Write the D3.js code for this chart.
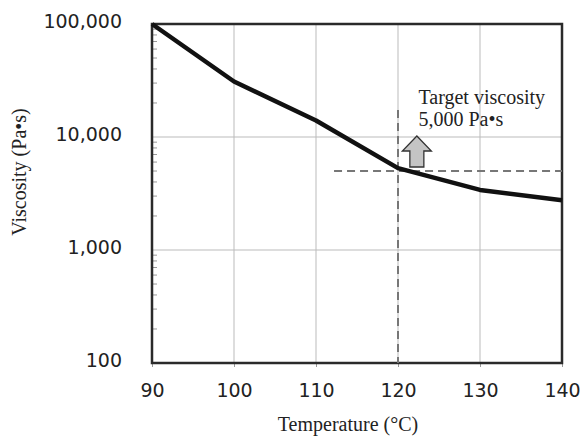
<!DOCTYPE html>
<html>
<head>
<meta charset="utf-8">
<script src="https://cdn.jsdelivr.net/npm/d3@7"></script>
<style>
  body { margin: 0; background: #fff; }
  .tick-label { font-family: "DejaVu Sans", Verdana, sans-serif; font-size: 19px; fill: #222; }
  .serif { font-family: "Liberation Serif", "Times New Roman", serif; font-size: 20px; fill: #222; }
</style>
</head>
<body>
<svg id="chart" width="581" height="438"></svg>
<script>
  // data
  const temps = [90, 100, 110, 120, 130, 140];
  const viscosity = [100000, 31000, 14000, 5300, 3400, 2750];
  const xTicks = [90, 100, 110, 120, 130, 140];
  const yTicks = [100, 1000, 10000, 100000];
  const targetTemp = 120;
  const targetVisc = 5000;

  const svg = d3.select("#chart");
  const margin = { top: 24, right: 19, bottom: 75, left: 152 };
  const width = 581 - margin.left - margin.right;
  const height = 438 - margin.top - margin.bottom;

  const g = svg.append("g")
    .attr("transform", `translate(${margin.left},${margin.top})`);

  const x = d3.scaleLinear().domain([90, 140]).range([0, width]);
  const y = d3.scaleLog().domain([100, 100000]).range([height, 0]);

  // grid
  g.selectAll(".vgrid")
    .data(xTicks.slice(1, -1))
    .enter().append("line")
      .attr("x1", d => x(d)).attr("x2", d => x(d))
      .attr("y1", 0).attr("y2", height)
      .attr("stroke", "#bbb").attr("stroke-width", 1);

  g.selectAll(".hgrid")
    .data(yTicks.slice(1, -1))
    .enter().append("line")
      .attr("x1", 0).attr("x2", width)
      .attr("y1", d => y(d)).attr("y2", d => y(d))
      .attr("stroke", "#bbb").attr("stroke-width", 1);

  // minor ticks inside left axis
  const minor = [];
  for (let dec = 100; dec < 100000; dec *= 10) {
    for (let k = 2; k <= 9; k++) minor.push(dec * k);
  }
  g.selectAll(".minor")
    .data(minor)
    .enter().append("line")
      .attr("x1", 0).attr("x2", 5)
      .attr("y1", d => y(d)).attr("y2", d => y(d))
      .attr("stroke", "#999").attr("stroke-width", 1);

  // x axis
  const xAxis = g.append("g")
    .attr("transform", `translate(0,${height})`)
    .call(d3.axisBottom(x).tickValues(xTicks).tickSize(4).tickPadding(16.5));
  xAxis.select(".domain").remove();
  xAxis.selectAll("line").attr("stroke", "#999");
  xAxis.selectAll("text").attr("class", "tick-label").attr("fill", null);

  // y axis
  const yAxis = g.append("g")
    .call(d3.axisLeft(y).tickValues(yTicks).tickSize(0).tickPadding(30)
      .tickFormat(d3.format(",")));
  yAxis.select(".domain").remove();
  yAxis.selectAll("text").attr("class", "tick-label").attr("fill", null).attr("dy", "0.2em");

  // frame
  g.append("rect")
    .attr("width", width).attr("height", height)
    .attr("fill", "none").attr("stroke", "#2a2a2a").attr("stroke-width", 2.5);

  // target dashed lines
  g.append("line")
    .attr("x1", x(targetTemp)).attr("x2", x(targetTemp))
    .attr("y1", 86).attr("y2", height)
    .attr("stroke", "#777").attr("stroke-width", 2).attr("stroke-dasharray", "8,5");
  g.append("line")
    .attr("x1", x(112.2)).attr("x2", width)
    .attr("y1", y(targetVisc)).attr("y2", y(targetVisc))
    .attr("stroke", "#777").attr("stroke-width", 2).attr("stroke-dasharray", "8,5");

  // viscosity curve
  const line = d3.line()
    .x((d, i) => x(temps[i]))
    .y(d => y(d));
  g.append("path")
    .datum(viscosity)
    .attr("d", line)
    .attr("fill", "none")
    .attr("stroke", "#111")
    .attr("stroke-width", 4.5)
    .attr("stroke-linejoin", "round");

  // up arrow
  const ax = x(122.3), ab = y(targetVisc) - 4;
  const arrow = [
    [ax - 7, ab], [ax - 7, ab - 16], [ax - 14.5, ab - 16], [ax, ab - 31],
    [ax + 14.5, ab - 16], [ax + 7, ab - 16], [ax + 7, ab]
  ];
  g.append("path")
    .attr("d", d3.line()(arrow) + "Z")
    .attr("fill", "#c4c4c4").attr("stroke", "#333").attr("stroke-width", 1.3);

  // annotation
  const ann = g.append("text").attr("class", "serif")
    .attr("x", x(122.5)).attr("y", 80);
  ann.append("tspan").attr("x", x(122.5)).text("Target viscosity");
  ann.append("tspan").attr("x", x(122.5)).attr("dy", 22).text("5,000 Pa\u2022s");

  // axis titles
  svg.append("text").attr("class", "serif")
    .attr("text-anchor", "middle")
    .attr("x", 348).attr("y", 431)
    .text("Temperature (\u00B0C)");

  svg.append("text").attr("class", "serif")
    .attr("text-anchor", "middle")
    .attr("transform", "translate(26,172) rotate(-90)")
    .text("Viscosity (Pa\u2022s)");
</script>
</body>
</html>
